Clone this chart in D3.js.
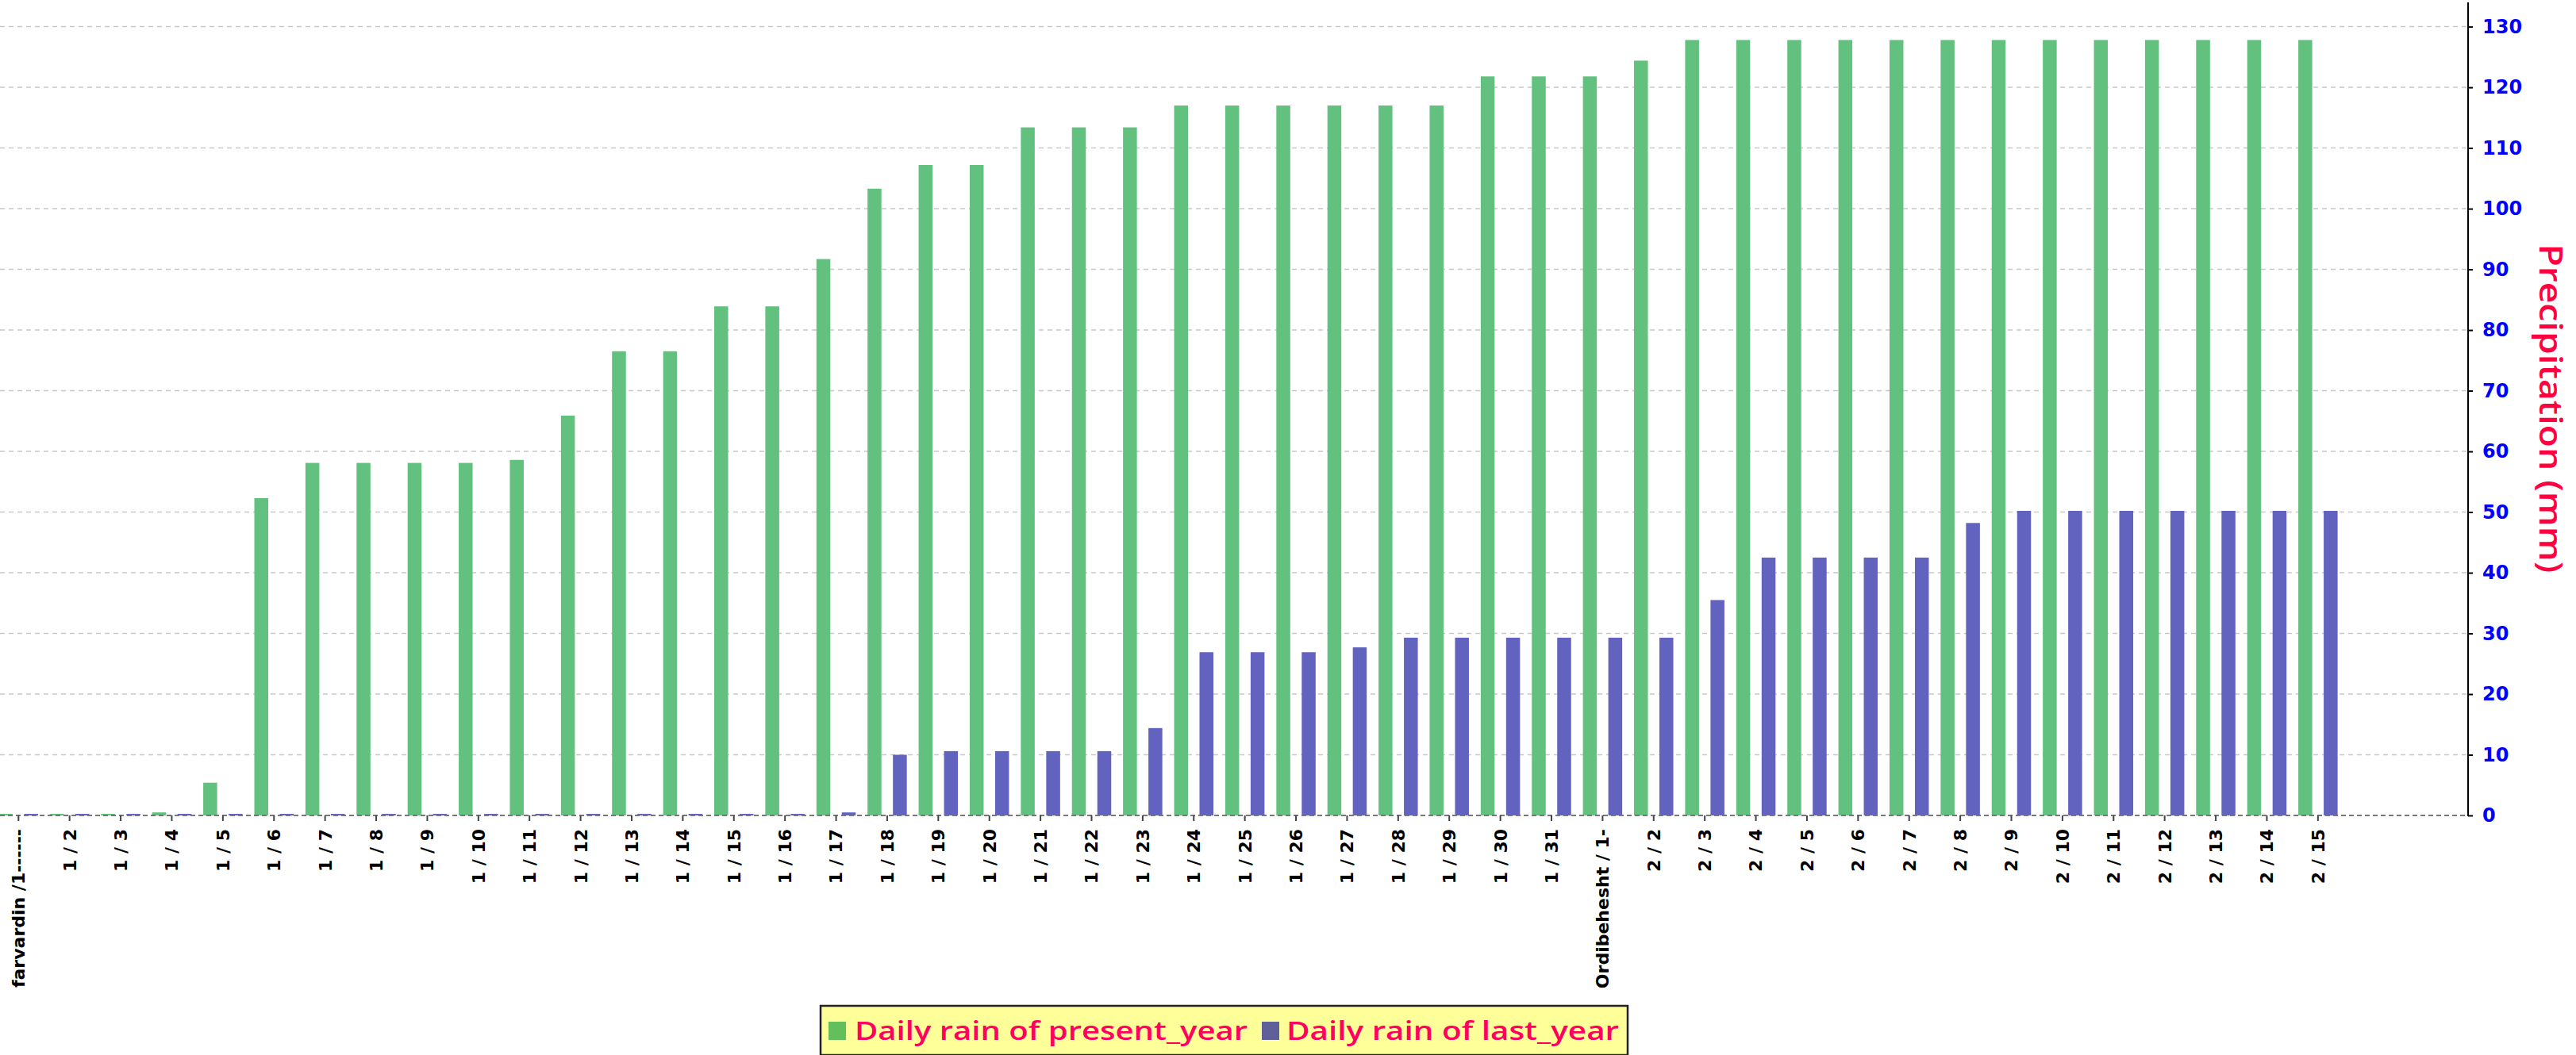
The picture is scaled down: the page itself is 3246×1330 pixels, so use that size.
<!DOCTYPE html>
<html>
<head>
<meta charset="utf-8">
<script src="https://cdn.jsdelivr.net/npm/d3@7"></script>
<style>
    body { margin: 0; background: #fff; }
    svg { display: block; }
</style>
</head>
<body>
<script>
// day labels on the category axis
const categories = [
    'farvardin /1------', '1 / 2', '1 / 3', '1 / 4', '1 / 5', '1 / 6', '1 / 7', '1 / 8', '1 / 9', '1 / 10',
    '1 / 11', '1 / 12', '1 / 13', '1 / 14', '1 / 15', '1 / 16', '1 / 17', '1 / 18', '1 / 19', '1 / 20',
    '1 / 21', '1 / 22', '1 / 23', '1 / 24', '1 / 25', '1 / 26', '1 / 27', '1 / 28', '1 / 29', '1 / 30',
    '1 / 31', 'Ordibehesht / 1-', '2 / 2', '2 / 3', '2 / 4', '2 / 5', '2 / 6', '2 / 7', '2 / 8', '2 / 9',
    '2 / 10', '2 / 11', '2 / 12', '2 / 13', '2 / 14', '2 / 15'
];

const presentYear = [
    0, 0, 0, 0.5, 5.4, 52.3, 58.1, 58.1, 58.1, 58.1,
    58.6, 65.9, 76.5, 76.5, 83.9, 83.9, 91.7, 103.3, 107.2, 107.2,
    113.4, 113.4, 113.4, 117, 117, 117, 117, 117, 117, 121.8,
    121.8, 121.8, 124.4, 127.8, 127.8, 127.8, 127.8, 127.8, 127.8, 127.8,
    127.8, 127.8, 127.8, 127.8, 127.8, 127.8
];

const lastYear = [
    0, 0, 0, 0, 0, 0, 0, 0, 0, 0,
    0, 0, 0, 0, 0, 0, 0.5, 10.0, 10.6, 10.6,
    10.6, 10.6, 14.4, 26.9, 26.9, 26.9, 27.7, 29.3, 29.3, 29.3,
    29.3, 29.3, 29.3, 35.5, 42.5, 42.5, 42.5, 42.5, 48.2, 50.2,
    50.2, 50.2, 50.2, 50.2, 50.2, 50.2
];

const seriesNames = ['Daily rain of present_year', 'Daily rain of last_year'];
const yTicks = [0, 10, 20, 30, 40, 50, 60, 70, 80, 90, 100, 110, 120, 130];

const width = 3246;
const height = 1330;

const barColors = ['#62c17e', '#6262bf'];
const legendColors = ['#62bf5c', '#5f5f99'];

var svg = d3.select('body')
    .append('svg')
    .attr('width', width)
    .attr('height', height);

// plot area: category axis runs under the bars, value axis is on the right
const axisX = 3110;
const baseY = 1028;
const topY = 3;

var x = d3.scaleBand()
    .domain(categories)
    .range([-8.9, -8.9 + 64.39 * categories.length])
    .padding(0);

const step = x.step();

var inner = d3.scaleBand()
    .domain([0, 1])
    .range([step / 2 - 24.75, step / 2 + 24.75])
    .paddingInner(0.453)
    .paddingOuter(0);

var y = d3.scaleLinear()
    .domain([0, 134])
    .range([baseY, topY]);

// grid
svg.append('g')
    .selectAll('line')
    .data(yTicks.filter(d => d > 0))
    .join('line')
    .attr('x1', 0)
    .attr('x2', axisX)
    .attr('y1', d => y(d))
    .attr('y2', d => y(d))
    .attr('stroke', '#c8c8c8')
    .attr('stroke-width', 1.5)
    .attr('stroke-dasharray', '6,5');

// bars
const series = [presentYear, lastYear];
let bars = svg.append('g');

for (let s = 0; s < series.length; s++) {
    bars.append('g')
        .selectAll('rect')
        .data(series[s])
        .join('rect')
        .attr('x', (d, i) => x(categories[i]) + inner(s))
        .attr('width', inner.bandwidth())
        .attr('y', d => Math.min(y(d), baseY - 2))
        .attr('height', d => Math.max(baseY - y(d), 2))
        .attr('fill', barColors[s]);
}

// base line
svg.append('line')
    .attr('x1', 0)
    .attr('x2', axisX)
    .attr('y1', baseY)
    .attr('y2', baseY)
    .attr('stroke', '#777')
    .attr('stroke-width', 2)
    .attr('stroke-dasharray', '6,4');

// category axis
var xAxis = svg.append('g')
    .attr('transform', `translate(0,${baseY})`)
    .call(d3.axisBottom(x).tickSize(7).tickPadding(0));

xAxis.select('.domain').remove();
xAxis.selectAll('.tick line')
    .attr('stroke', '#444')
    .attr('stroke-width', 2);
xAxis.selectAll('.tick text')
    .attr('transform', 'rotate(-90)')
    .attr('text-anchor', 'end')
    .attr('x', -17)
    .attr('y', 0)
    .attr('dy', '0.36em')
    .attr('fill', '#000')
    .style('font-family', '"DejaVu Sans", sans-serif')
    .style('font-weight', 'bold')
    .style('font-size', '22px');

// value axis on the right
var yAxis = svg.append('g')
    .attr('transform', `translate(${axisX},0)`)
    .call(d3.axisRight(y).tickValues(yTicks).tickSize(6).tickPadding(12));

yAxis.select('.domain')
    .attr('stroke', '#000')
    .attr('stroke-width', 2)
    .attr('d', `M0,${topY}V${baseY + 1}`);
yAxis.selectAll('.tick line')
    .attr('stroke', '#000')
    .attr('stroke-width', 2);
yAxis.selectAll('.tick text')
    .attr('fill', '#0000ff')
    .style('font-family', '"DejaVu Sans", sans-serif')
    .style('font-weight', 'bold')
    .style('font-size', '24px');

svg.append('text')
    .attr('transform', 'translate(3200,515) rotate(90)')
    .attr('text-anchor', 'middle')
    .attr('fill', '#ff0040')
    .attr('textLength', 415)
    .attr('lengthAdjust', 'spacingAndGlyphs')
    .style('font-family', '"Open Sans", sans-serif')
    .style('font-weight', 600)
    .style('font-size', '40px')
    .text('Precipitation (mm)');

// legend
let legend = svg.append('g');

legend.append('rect')
    .attr('x', 1034)
    .attr('y', 1268)
    .attr('width', 1017)
    .attr('height', 62)
    .attr('fill', '#ffff99')
    .attr('stroke', '#222')
    .attr('stroke-width', 2.5);

const legendItems = [
    { sx: 1044, tx: 1077, len: 495 },
    { sx: 1590, tx: 1621, len: 419 }
];

for (let s = 0; s < seriesNames.length; s++) {
    legend.append('rect')
        .attr('x', legendItems[s].sx)
        .attr('y', 1288)
        .attr('width', 22)
        .attr('height', 23)
        .attr('fill', legendColors[s]);

    legend.append('text')
        .attr('x', legendItems[s].tx)
        .attr('y', 1311)
        .attr('fill', '#ff0060')
        .attr('textLength', legendItems[s].len)
        .attr('lengthAdjust', 'spacingAndGlyphs')
        .style('font-family', '"Open Sans", sans-serif')
        .style('font-weight', 600)
        .style('font-size', '32px')
        .text(seriesNames[s]);
}
</script>
</body>
</html>
